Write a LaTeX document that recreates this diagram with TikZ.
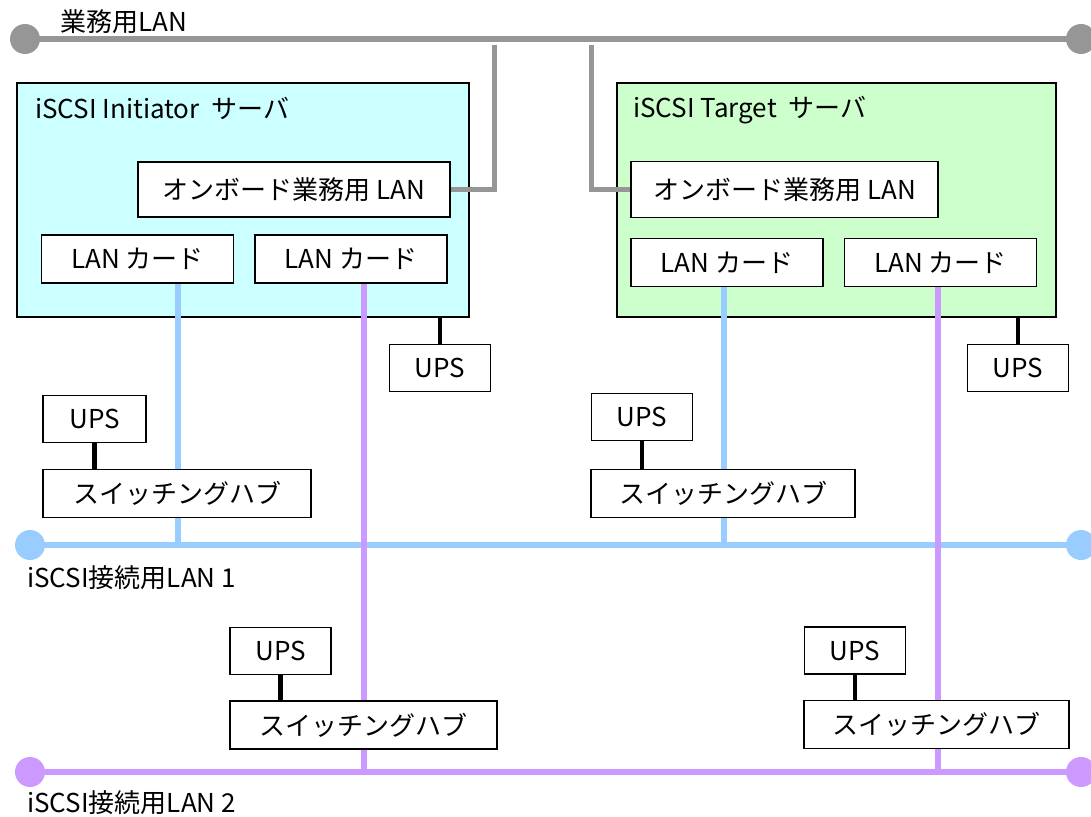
\documentclass[tikz,border=0pt]{standalone}
\usepackage{fontspec}
\setmainfont{Noto Sans CJK JP}
\usepackage{tikz}
\definecolor{bizgray}{HTML}{969696}
\definecolor{lanblue}{HTML}{99CCFF}
\definecolor{lanpurple}{HTML}{CC99FF}
\definecolor{inifill}{HTML}{CCFFFF}
\definecolor{tgtfill}{HTML}{CCFFCC}
\tikzstyle{box}=[draw=black, fill=white, line width=1.7pt, inner sep=0pt, font=\fontsize{26pt}{30pt}\selectfont]
\tikzstyle{server}=[box, minimum width=440pt, minimum height=234pt]
\tikzstyle{ups}=[box, minimum width=101pt, minimum height=47pt]
\tikzstyle{hub}=[box, minimum width=266pt, minimum height=48pt]
\tikzstyle{card}=[box, minimum width=192pt, minimum height=48pt]
\tikzstyle{label}=[anchor=west, inner sep=0pt, font=\fontsize{26pt}{30pt}\selectfont]
\tikzstyle{biz}=[draw=bizgray, line width=6pt]
\tikzstyle{iscsia}=[draw=lanblue, line width=6pt]
\tikzstyle{iscsib}=[draw=lanpurple, line width=6pt]
\tikzstyle{power}=[draw=black, line width=4.5pt]

\begin{document}
\begin{tikzpicture}[x=1pt, y=-1pt]
		\useasboundingbox (0, 0) rectangle (1091, 816);
		% LAN lines
		\coordinate (biz-w) at (25, 39);
		\coordinate (biz-e) at (1081, 39);
		\coordinate (lana-w) at (30, 545);
		\coordinate (lana-e) at (1081, 545);
		\coordinate (lanb-w) at (30, 772);
		\coordinate (lanb-e) at (1081, 772);
		\draw[biz] (biz-w) -- (biz-e);
		\draw[iscsia] (lana-w) -- (lana-e);
		\draw[iscsib] (lanb-w) -- (lanb-e);
		\fill[bizgray] (biz-w) circle (15pt) (biz-e) circle (15pt);
		\fill[lanblue] (lana-w) circle (15pt) (lana-e) circle (15pt);
		\fill[lanpurple] (lanb-w) circle (15pt) (lanb-e) circle (15pt);
		\node[label] (biz-lbl) at (60, 22) {業務用LAN};
		\node[label] (lana-lbl) at (27, 578) {iSCSI接続用LAN 1};
		\node[label] (lanb-lbl) at (27, 803) {iSCSI接続用LAN 2};

		% servers
		\node[server, fill=inifill, minimum width=452pt] (ini) at (243, 200) {};
		\node[label] (ini-title) at (35, 108) {iSCSI Initiator\ \ サーバ};
		\node[box, minimum width=312pt, minimum height=55pt] (ini-ob) at (294, 189.5) {オンボード業務用 LAN};
		\node[card] (ini-ca) at (137.5, 259) {LAN カード};
		\node[card] (ini-cb) at (351, 259) {LAN カード};
		\node[ups] (ini-ups) at (440, 368) {UPS};

		\node[server, fill=tgtfill, minimum width=439pt] (tgt) at (836.5, 200) {};
		\node[label] (tgt-title) at (633, 110) {iSCSI Target\ \ サーバ};
		\node[box, minimum width=307pt, minimum height=56pt] (tgt-ob) at (784.5, 189.5) {オンボード業務用 LAN};
		\node[card] (tgt-ca) at (727, 262.5) {LAN カード};
		\node[card] (tgt-cb) at (940.5, 262.5) {LAN カード};
		\node[ups] (tgt-ups) at (1018, 368) {UPS};

		% links
		\coordinate (gl-a) at (494, 45);
		\coordinate (gl-b) at (591, 45);
		\draw[biz, line width=5pt] (ini-ob.east) -| (gl-a);
		\draw[biz, line width=5pt] (tgt-ob.west) -| (gl-b);
		\draw[power] (ini.south -| ini-ups.north) -- (ini-ups.north);
		\draw[power] (tgt.south -| tgt-ups.north) -- (tgt-ups.north);
		\coordinate (ja) at (178, 545);
		\coordinate (jb) at (364, 772);
		\coordinate (jc) at (724, 545);
		\coordinate (jd) at (938, 772);
		\draw[iscsia, line width=5.5pt] (ja |- ini-ca.south) -- (ja);
		\draw[iscsib, line width=5.5pt] (jb |- ini-cb.south) -- (jb);
		\draw[iscsia, line width=5.5pt] (jc |- tgt-ca.south) -- (jc);
		\draw[iscsib, line width=5.5pt] (jd |- tgt-cb.south) -- (jd);

		% switching hubs
		\node[ups, minimum width=103pt] (ups-a) at (94.5, 419) {UPS};
		\node[hub, minimum width=268pt] (hub-a) at (177, 493.5) {スイッチングハブ};
		\node[ups] (ups-b) at (642, 417) {UPS};
		\node[hub, minimum width=264pt] (hub-b) at (723, 493.5) {スイッチングハブ};
		\node[ups] (ups-c) at (280.5, 651) {UPS};
		\node[hub, minimum width=267pt] (hub-c) at (363.5, 725) {スイッチングハブ};
		\node[ups] (ups-d) at (855, 650.5) {UPS};
		\node[hub, minimum width=265pt] (hub-d) at (936.5, 724.5) {スイッチングハブ};
		\draw[power] (ups-a.south) -- (ups-a.south |- hub-a.north);
		\draw[power] (ups-b.south) -- (ups-b.south |- hub-b.north);
		\draw[power] (ups-c.south) -- (ups-c.south |- hub-c.north);
		\draw[power] (ups-d.south) -- (ups-d.south |- hub-d.north);
\end{tikzpicture}
\end{document}
